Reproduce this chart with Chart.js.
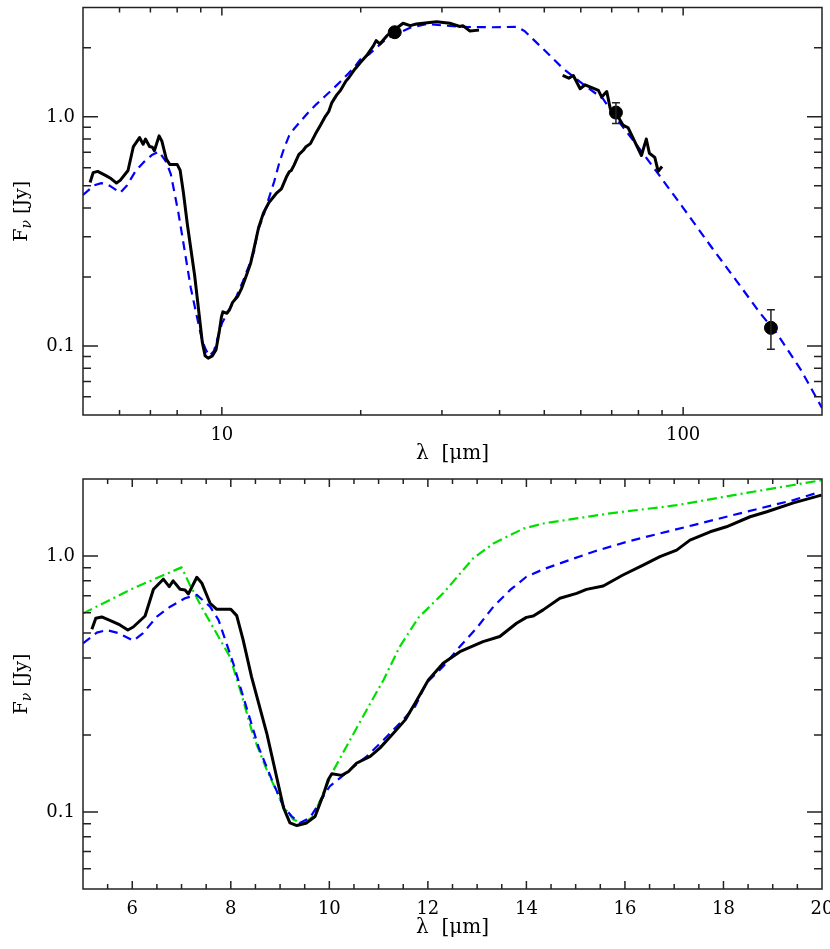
<!DOCTYPE html>
<html>
<head>
<meta charset="utf-8">
<script src="https://cdn.jsdelivr.net/npm/chart.js@4.4.1/dist/chart.umd.min.js"></script>
<style>
  body { margin: 0; background: #fff; overflow: hidden; }
  canvas { display: block; }
</style>
</head>
<body>
<canvas id="sedChart" width="830" height="470"></canvas>
<canvas id="zoomChart" width="830" height="479"></canvas>
<script>
// observed IRS spectrum (micron, Jy)
const irsWave = [5.18, 5.26, 5.38, 5.58, 5.75, 5.91, 6.02, 6.26, 6.43, 6.63, 6.75, 6.83, 6.97, 7.07, 7.14, 7.31, 7.41, 7.58, 7.71, 8.0, 8.12, 8.25, 8.42, 8.73, 9.07, 9.2, 9.34, 9.54, 9.71, 9.88, 9.98, 10.05, 10.25, 10.39, 10.55, 10.83, 11.03, 11.3, 11.54, 11.74, 12.01, 12.31, 12.65, 13.12, 13.46, 13.8, 14.0, 14.14, 14.34, 14.68, 15.02, 15.22, 15.56, 15.96, 16.37, 16.71, 17.05, 17.32, 17.73, 18.06, 18.54, 18.88, 19.42, 19.99, 20.6, 21.3, 21.6, 22.0, 22.8, 23.5, 24.7, 25.6, 26.4, 27.3, 29.2, 31.2, 32.8, 33.3, 34.5, 36.1];
const irsFlux = [0.517, 0.571, 0.578, 0.557, 0.538, 0.514, 0.528, 0.583, 0.742, 0.812, 0.759, 0.8, 0.742, 0.737, 0.711, 0.826, 0.785, 0.654, 0.62, 0.62, 0.585, 0.47, 0.338, 0.203, 0.104, 0.0906, 0.0885, 0.0906, 0.096, 0.117, 0.134, 0.141, 0.139, 0.144, 0.155, 0.165, 0.178, 0.203, 0.229, 0.266, 0.328, 0.381, 0.423, 0.463, 0.485, 0.546, 0.576, 0.583, 0.616, 0.684, 0.715, 0.741, 0.764, 0.843, 0.922, 0.994, 1.055, 1.154, 1.244, 1.301, 1.424, 1.489, 1.614, 1.73, 1.85, 2.04, 2.15, 2.08, 2.26, 2.37, 2.56, 2.5, 2.54, 2.56, 2.6, 2.56, 2.48, 2.5, 2.37, 2.39];

// MIPS SED-mode spectrum
const sedWave = [54.8, 56.5, 57.8, 59.8, 61.3, 65.5, 66.6, 68.3, 69.5, 71.7, 74.1, 76.0, 81.2, 83.2, 84.5, 86.8, 88.3, 90.0];
const sedFlux = [1.515, 1.475, 1.515, 1.326, 1.38, 1.305, 1.22, 1.29, 1.086, 1.03, 0.92, 0.896, 0.678, 0.8, 0.694, 0.665, 0.578, 0.607];

// model (blue dashed)
const modelWave = [5.0, 5.28, 5.48, 5.72, 6.02, 6.22, 6.5, 6.77, 7.07, 7.31, 7.58, 7.75, 8.05, 8.25, 8.56, 8.83, 9.07, 9.24, 9.4, 9.61, 9.84, 10.01, 10.22, 10.49, 10.76, 11.1, 11.43, 11.74, 11.97, 12.31, 12.65, 12.99, 13.33, 13.67, 14.0, 14.34, 14.68, 15.36, 16.04, 16.71, 17.39, 18.06, 18.74, 19.42, 19.96, 20.9, 22.8, 25.6, 27.8, 32.8, 38.7, 43.5, 45.3, 49.7, 55.0, 61.8, 67.0, 71.7, 79.3, 87.5, 100, 114, 130.4, 146.9, 159.4, 180, 200];
const modelFlux = [0.456, 0.502, 0.514, 0.5, 0.467, 0.5, 0.58, 0.634, 0.684, 0.705, 0.634, 0.563, 0.381, 0.283, 0.18, 0.134, 0.105, 0.096, 0.0906, 0.095, 0.112, 0.126, 0.136, 0.15, 0.165, 0.191, 0.222, 0.258, 0.319, 0.37, 0.443, 0.523, 0.634, 0.737, 0.83, 0.887, 0.936, 1.04, 1.137, 1.226, 1.321, 1.424, 1.535, 1.654, 1.78, 1.88, 2.2, 2.45, 2.54, 2.47, 2.46, 2.47, 2.37, 1.98, 1.62, 1.35, 1.2, 0.983, 0.754, 0.578, 0.401, 0.278, 0.193, 0.139, 0.114, 0.0787, 0.0537];

// second model (green dash-dot), lower panel only
const model2Wave = [5.0, 6.02, 7.0, 7.17, 7.44, 7.71, 7.98, 8.19, 8.46, 8.73, 9.07, 9.27, 9.47, 9.67, 10.08, 10.42, 10.76, 11.1, 11.43, 11.81, 12.31, 12.92, 13.33, 13.94, 14.34, 15.7, 17.05, 18.4, 20.0];
const model2Flux = [0.597, 0.748, 0.903, 0.771, 0.616, 0.499, 0.405, 0.3, 0.197, 0.146, 0.105, 0.0934, 0.0898, 0.096, 0.145, 0.191, 0.251, 0.328, 0.443, 0.575, 0.715, 0.98, 1.12, 1.28, 1.34, 1.468, 1.58, 1.756, 1.98];

// MIPS photometry with errors
const photWave = [23.7, 71.5, 155];
const photFlux = [2.34, 1.044, 0.12];
const photLo = [2.34, 0.936, 0.0968];
const photHi = [2.34, 1.153, 0.144];

// tick values
const topXMajor = [10, 100];
const topXMinor = [5, 6, 7, 8, 9, 20, 30, 40, 50, 60, 70, 80, 90, 200];
const botXMajor = [6, 8, 10, 12, 14, 16, 18, 20];
const botXMinor = [5, 5.5, 6.5, 7, 7.5, 8.5, 9, 9.5, 10.5, 11, 11.5, 12.5, 13, 13.5, 14.5, 15, 15.5, 16.5, 17, 17.5, 18.5, 19, 19.5];
const yMajor = [0.1, 1];
const yMinor = [0.06, 0.07, 0.08, 0.09, 0.2, 0.3, 0.4, 0.5, 0.6, 0.7, 0.8, 0.9, 2, 3];
const yLabels = { 0.1: '0.1', 1: '1.0' };

const FONT = 'DejaVu Serif';
const AXIS = '#222';

const pts = (w, f, maxX) => w.map((x, i) => ({ x: x, y: f[i] })).filter(p => p.x <= maxX);

// frame + inward ticks on all four sides, plus axis titles
const frameTicks = {
  id: 'frameTicks',
  afterDraw(chart, args, o) {
    const { ctx, chartArea: a, scales: { x, y } } = chart;
    ctx.save();
    ctx.strokeStyle = AXIS;
    ctx.lineWidth = 1.5;
    ctx.beginPath();
    const xt = (vals, len) => vals.forEach(v => {
      const px = x.getPixelForValue(v);
      if (px <= a.left + 1 || px >= a.right - 1) return;
      ctx.moveTo(px, a.bottom); ctx.lineTo(px, a.bottom - len);
      ctx.moveTo(px, a.top); ctx.lineTo(px, a.top + len);
    });
    const yt = (vals, len) => vals.forEach(v => {
      const py = y.getPixelForValue(v);
      if (py <= a.top + 1 || py >= a.bottom - 1) return;
      ctx.moveTo(a.left, py); ctx.lineTo(a.left + len, py);
      ctx.moveTo(a.right, py); ctx.lineTo(a.right - len, py);
    });
    xt(o.xMajor, 8); xt(o.xMinor, 5);
    yt(o.yMajor, 15); yt(o.yMinor, 8);
    ctx.stroke();
    ctx.strokeRect(a.left, a.top, a.right - a.left, a.bottom - a.top);

    ctx.fillStyle = '#000';
    ctx.textBaseline = 'middle';
    ctx.textAlign = 'center';
    ctx.font = '20px "' + FONT + '"';
    ctx.fillText('λ  [μm]', (a.left + a.right) / 2, a.bottom + 39);

    ctx.translate(22, (a.top + a.bottom) / 2);
    ctx.rotate(-Math.PI / 2);
    ctx.textAlign = 'left';
    const big = '19px "' + FONT + '"', small = 'italic 14px "' + FONT + '"';
    ctx.font = big; const wF = ctx.measureText('F').width, wJ = ctx.measureText(' [Jy]').width;
    ctx.font = small; const wN = ctx.measureText('ν').width;
    let cx = -(wF + wN + wJ) / 2;
    ctx.font = big; ctx.fillText('F', cx, 0); cx += wF;
    ctx.font = small; ctx.fillText('ν', cx, 5); cx += wN;
    ctx.font = big; ctx.fillText(' [Jy]', cx, 0);
    ctx.restore();
  }
};

// vertical error bars with caps
const errorBars = {
  id: 'errorBars',
  afterDatasetsDraw(chart, args, o) {
    if (!o.wave) return;
    const { ctx, scales: { x, y } } = chart;
    ctx.save();
    ctx.strokeStyle = AXIS;
    ctx.lineWidth = 1.5;
    ctx.beginPath();
    o.wave.forEach((w, i) => {
      if (o.lo[i] === o.hi[i]) return;
      const px = x.getPixelForValue(w), y0 = y.getPixelForValue(o.lo[i]), y1 = y.getPixelForValue(o.hi[i]);
      ctx.moveTo(px, y0); ctx.lineTo(px, y1);
      ctx.moveTo(px - 4, y0); ctx.lineTo(px + 4, y0);
      ctx.moveTo(px - 4, y1); ctx.lineTo(px + 4, y1);
    });
    ctx.stroke();
    ctx.restore();
  }
};

function makeChart(id, c) {
  const xTicks = [...c.xMajor, ...c.xMinor].sort((a, b) => a - b);
  const yTicks = [...yMajor, ...c.yMinor].sort((a, b) => a - b);
  return new Chart(document.getElementById(id), {
    type: 'scatter',
    data: { datasets: c.datasets },
    options: {
      responsive: false,
      animation: false,
      events: [],
      layout: { padding: { top: c.padTop, right: 8, left: 0, bottom: 0 } },
      plugins: {
        legend: { display: false },
        tooltip: { enabled: false },
        frameTicks: { xMajor: c.xMajor, xMinor: c.xMinor, yMajor: yMajor, yMinor: c.yMinor },
        errorBars: c.err || {}
      },
      scales: {
        x: {
          type: c.xType, min: c.xMin, max: c.xMax,
          border: { display: false },
          grid: { display: false, drawTicks: false },
          afterFit: s => { s.height = c.xHeight; s.paddingLeft = 0; s.paddingRight = 0; },
          afterBuildTicks: s => { s.ticks = xTicks.map(v => ({ value: v })); },
          ticks: {
            autoSkip: false, maxRotation: 0, padding: 10, color: '#000',
            font: { family: FONT, size: 18 },
            callback: v => c.xMajor.includes(v) ? String(v) : ''
          }
        },
        y: {
          type: 'logarithmic', min: 0.05, max: c.yMax,
          border: { display: false },
          grid: { display: false, drawTicks: false },
          afterFit: s => { s.width = 83; s.paddingTop = 0; s.paddingBottom = 0; },
          afterBuildTicks: s => { s.ticks = yTicks.map(v => ({ value: v })); },
          ticks: {
            autoSkip: false, padding: 8, color: '#000',
            font: { family: FONT, size: 18 },
            callback: v => yLabels[v] || ''
          }
        }
      }
    },
    plugins: [frameTicks, errorBars]
  });
}

const lineDs = (data, color, width, dash) => ({
  data: data, showLine: true, borderColor: color, borderWidth: width, borderDash: dash,
  pointRadius: 0, tension: 0, clip: 0, borderJoinStyle: 'round'
});

makeChart('sedChart', {
  xType: 'logarithmic', xMin: 5, xMax: 200, yMax: 3, padTop: 5, xHeight: 55,
  xMajor: topXMajor, xMinor: topXMinor, yMinor: yMinor,
  err: { wave: photWave, lo: photLo, hi: photHi },
  datasets: [
    { data: pts(photWave, photFlux, 1e9), pointRadius: 6.5, pointBackgroundColor: '#000', pointBorderColor: '#000', showLine: false },
    lineDs(pts(irsWave, irsFlux, 1e9), '#000', 3, []),
    lineDs(pts(sedWave, sedFlux, 1e9), '#000', 3, []),
    lineDs(pts(modelWave, modelFlux, 1e9), '#0000ff', 2.2, [9, 6])
  ]
});

makeChart('zoomChart', {
  xType: 'linear', xMin: 5, xMax: 20, yMax: 2, padTop: 9, xHeight: 60,
  xMajor: botXMajor, xMinor: botXMinor, yMinor: yMinor.filter(v => v <= 2),
  datasets: [
    lineDs(pts(irsWave, irsFlux, 20), '#000', 3, []),
    lineDs(pts(modelWave, modelFlux, 20), '#0000ff', 2.2, [9, 6]),
    lineDs(pts(model2Wave, model2Flux, 20), '#00e000', 2.2, [10, 4, 2, 4])
  ]
});
</script>
</body>
</html>
